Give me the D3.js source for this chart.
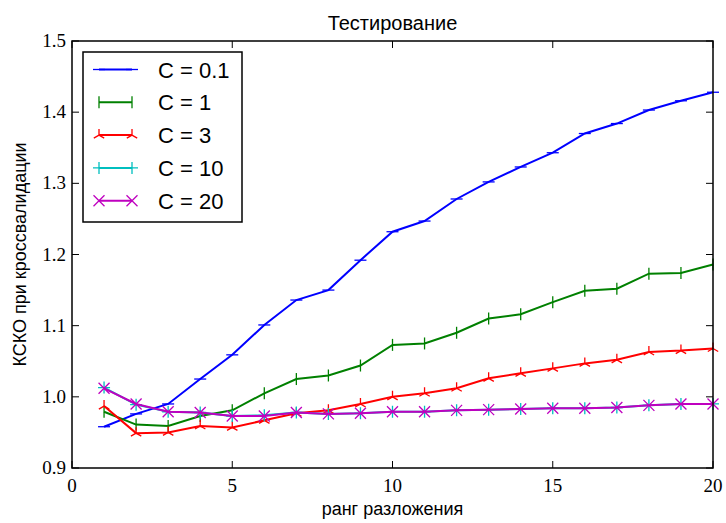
<!DOCTYPE html>
<html>
<head>
<meta charset="utf-8">
<script src="https://cdn.jsdelivr.net/npm/d3@7"></script>
<style>
  body { margin: 0; background: #fff; }
  svg text { fill: #000; }
</style>
</head>
<body>
<script>
// Data
const ranks = d3.range(1, 21);
const c01  = [0.958, 0.976, 0.990, 1.025, 1.059, 1.101, 1.136, 1.150, 1.192, 1.232, 1.247, 1.278, 1.302, 1.323, 1.343, 1.370, 1.384, 1.403, 1.416, 1.428];
const c1   = [0.979, 0.961, 0.959, 0.973, 0.981, 1.005, 1.025, 1.030, 1.044, 1.073, 1.075, 1.090, 1.110, 1.116, 1.133, 1.149, 1.152, 1.173, 1.174, 1.186];
const c3   = [0.987, 0.949, 0.950, 0.959, 0.957, 0.967, 0.977, 0.981, 0.990, 1.000, 1.005, 1.012, 1.026, 1.033, 1.040, 1.047, 1.052, 1.063, 1.065, 1.068];
const c10  = [1.013, 0.989, 0.979, 0.978, 0.973, 0.974, 0.978, 0.976, 0.977, 0.979, 0.979, 0.981, 0.982, 0.983, 0.984, 0.984, 0.985, 0.988, 0.990, 0.990];
const c20  = [1.012, 0.990, 0.979, 0.978, 0.973, 0.973, 0.978, 0.976, 0.977, 0.979, 0.979, 0.981, 0.982, 0.983, 0.984, 0.984, 0.985, 0.988, 0.990, 0.990];
const seriesNames = ["C = 0.1", "C = 1", "C = 3", "C = 10", "C = 20"];
const xTicks = [0, 5, 10, 15, 20];
const yTicks = [0.9, 1.0, 1.1, 1.2, 1.3, 1.4, 1.5];

const series = [
  { name: seriesNames[0], values: c01, color: "#0000ff", marker: "hline" },
  { name: seriesNames[1], values: c1,  color: "#008000", marker: "vline" },
  { name: seriesNames[2], values: c3,  color: "#ff0000", marker: "tri" },
  { name: seriesNames[3], values: c10, color: "#00bfbf", marker: "plus" },
  { name: seriesNames[4], values: c20, color: "#bf00bf", marker: "x" }
];

const W = 726, H = 523;
const margin = { top: 41, right: 13, bottom: 55, left: 72 };
const width = W - margin.left - margin.right,
      height = H - margin.top - margin.bottom;

const svg = d3.select("body").append("svg")
    .attr("width", W)
    .attr("height", H);

const g = svg.append("g")
    .attr("transform", `translate(${margin.left},${margin.top})`);

const x = d3.scaleLinear().domain([0, 20]).range([0, width]);
const y = d3.scaleLinear().domain([0.9, 1.5]).range([height, 0]);

// marker paths centred at 0,0
function markerPath(type) {
  switch (type) {
    case "hline": return "M-6,0H6";
    case "vline": return "M0,-6V6";
    case "tri":   return "M0,0V-6M0,0L-5.2,3M0,0L5.2,3";
    case "plus":  return "M-6,0H6M0,-6V6";
    case "x":     return "M-5.5,-5.5L5.5,5.5M-5.5,5.5L5.5,-5.5";
  }
}

const line = d3.line()
    .x((d, i) => x(ranks[i]))
    .y(d => y(d));

const plot = g.append("g");
series.forEach(s => {
  plot.append("path")
      .attr("d", line(s.values))
      .attr("fill", "none")
      .attr("stroke", s.color)
      .attr("stroke-width", 2);
  plot.selectAll(null)
      .data(s.values)
      .enter().append("path")
      .attr("transform", (d, i) => `translate(${x(ranks[i])},${y(d)})`)
      .attr("d", markerPath(s.marker))
      .attr("fill", "none")
      .attr("stroke", s.color)
      .attr("stroke-width", 1.3);
});

// Frame
g.append("rect")
    .attr("width", width)
    .attr("height", height)
    .attr("fill", "none")
    .attr("stroke", "#000")
    .attr("stroke-width", 1.5);

// Ticks (inside, on all sides)
const tickLen = 7;
const ticks = g.append("g").attr("stroke", "#000").attr("stroke-width", 1);
xTicks.forEach(t => {
  ticks.append("line").attr("x1", x(t)).attr("x2", x(t)).attr("y1", height).attr("y2", height - tickLen);
  ticks.append("line").attr("x1", x(t)).attr("x2", x(t)).attr("y1", 0).attr("y2", tickLen);
});
yTicks.forEach(t => {
  ticks.append("line").attr("x1", 0).attr("x2", tickLen).attr("y1", y(t)).attr("y2", y(t));
  ticks.append("line").attr("x1", width).attr("x2", width - tickLen).attr("y1", y(t)).attr("y2", y(t));
});

// Tick labels
g.selectAll(".xlab")
    .data(xTicks)
    .enter().append("text")
    .attr("x", d => x(d))
    .attr("y", height + 24)
    .attr("text-anchor", "middle")
    .style("font-family", "'Liberation Serif', serif")
    .style("font-size", "19px")
    .text(d => d);

g.selectAll(".ylab")
    .data(yTicks)
    .enter().append("text")
    .attr("x", -6)
    .attr("y", d => y(d) + 6)
    .attr("text-anchor", "end")
    .style("font-family", "'Liberation Serif', serif")
    .style("font-size", "19px")
    .text(d => d3.format(".1f")(d));

// Title and axis labels
svg.append("text")
    .attr("x", margin.left + width / 2)
    .attr("y", 30)
    .attr("text-anchor", "middle")
    .style("font-family", "'Liberation Sans', sans-serif")
    .style("font-size", "20px")
    .text("Тестирование");

svg.append("text")
    .attr("x", margin.left + width / 2)
    .attr("y", 515)
    .attr("text-anchor", "middle")
    .style("font-family", "'Liberation Sans', sans-serif")
    .style("font-size", "18px")
    .text("ранг разложения");

svg.append("text")
    .attr("transform", `translate(26,${margin.top + height / 2}) rotate(-90)`)
    .attr("text-anchor", "middle")
    .style("font-family", "'Liberation Sans', sans-serif")
    .style("font-size", "18px")
    .text("КСКО при кроссвалидации");

// Legend
const legend = svg.append("g").attr("transform", "translate(83,52)");
legend.append("rect")
    .attr("width", 159)
    .attr("height", 170)
    .attr("fill", "#fff")
    .attr("stroke", "#000")
    .attr("stroke-width", 1.5);

series.forEach((s, i) => {
  const ly = 17.5 + i * 32.8;
  const row = legend.append("g").attr("transform", `translate(0,${ly})`);
  row.append("line")
      .attr("x1", 16).attr("x2", 49)
      .attr("stroke", s.color)
      .attr("stroke-width", 2);
  [16, 49].forEach(mx => {
    row.append("path")
        .attr("transform", `translate(${mx},0)`)
        .attr("d", markerPath(s.marker))
        .attr("fill", "none")
        .attr("stroke", s.color)
        .attr("stroke-width", 1.3);
  });
  row.append("text")
      .attr("x", 75)
      .attr("y", 8)
      .style("font-family", "'Liberation Sans', sans-serif")
      .style("font-size", "22px")
      .text(s.name);
});
</script>
</body>
</html>
